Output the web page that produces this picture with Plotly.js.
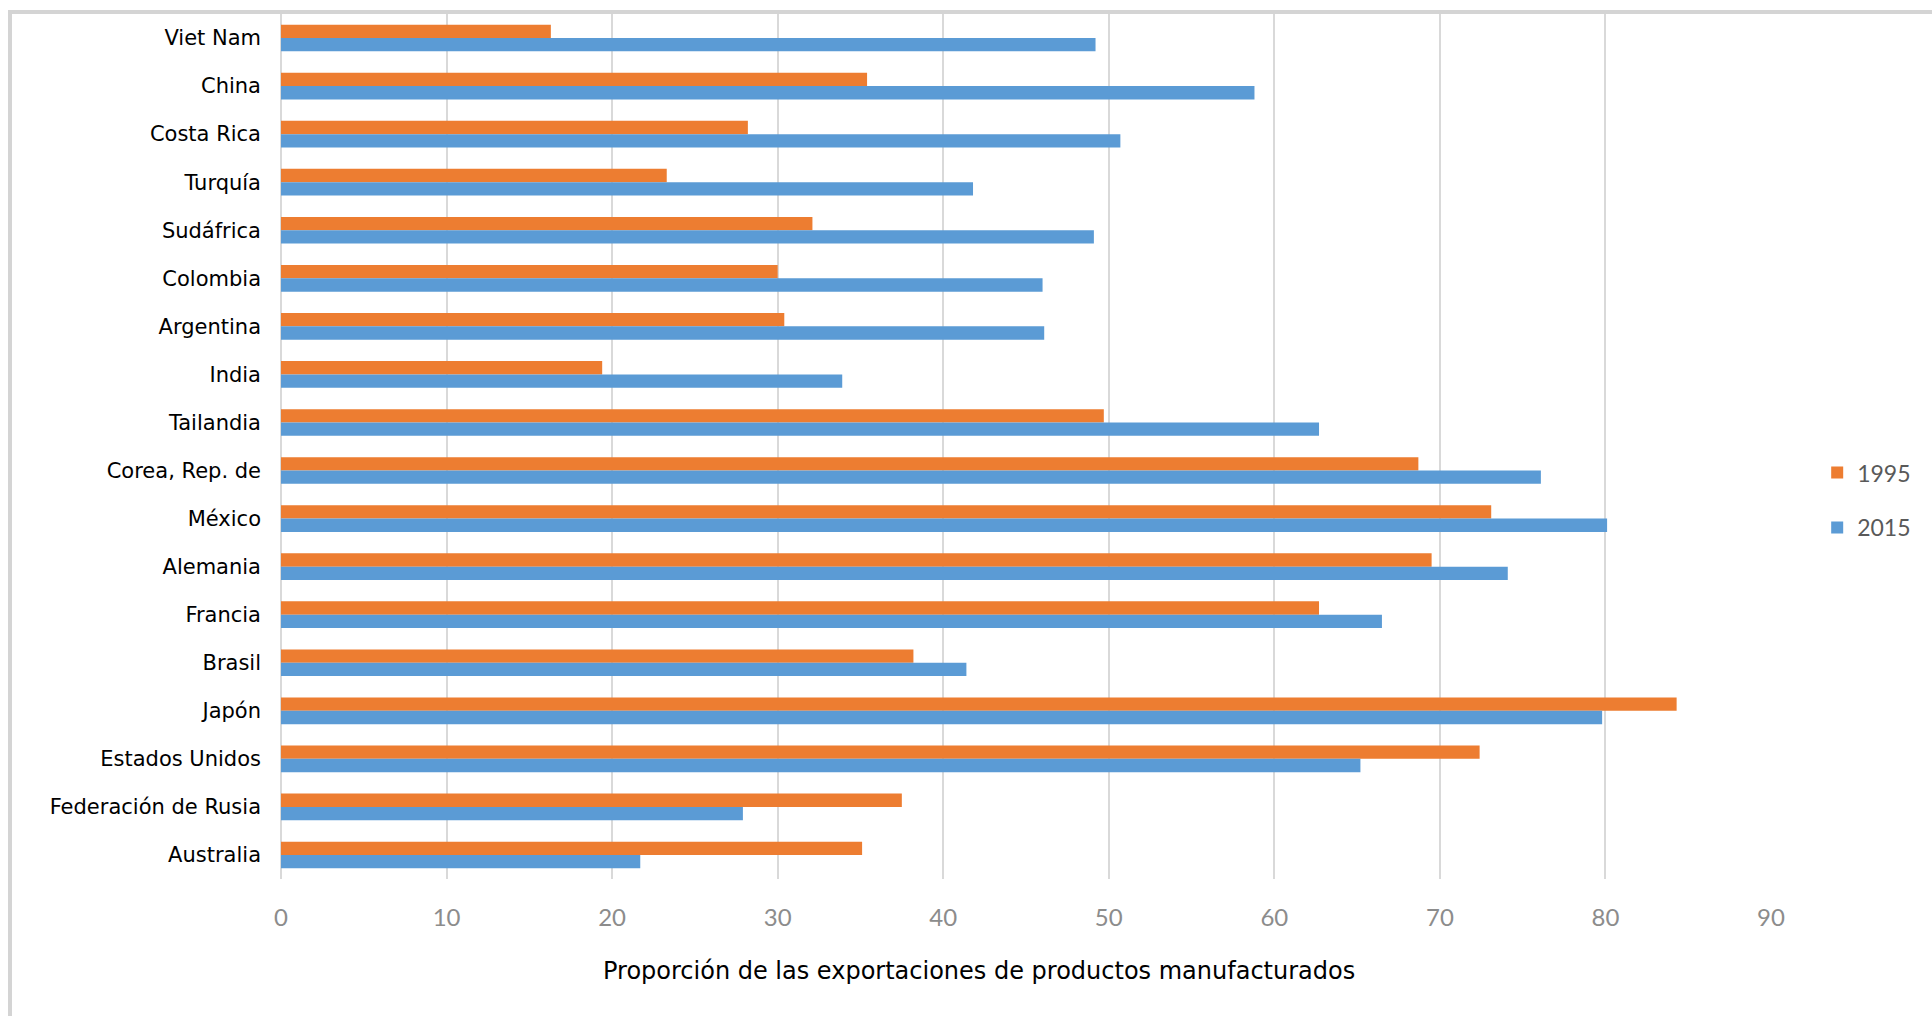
<!DOCTYPE html>
<html>
<head>
<meta charset="utf-8">
<script src="https://cdn.plot.ly/plotly-3.0.1.min.js"></script>
<style>
  html, body { margin: 0; padding: 0; background: #ffffff; overflow: hidden; }
  #frame { position: absolute; left: 8px; top: 10px; width: 2100px; height: 1200px;
           border-left: 4px solid #d4d4d4; border-top: 4px solid #d4d4d4; }
  #chart { position: absolute; left: 0; top: 0; width: 1932px; height: 1016px; }
</style>
</head>
<body>
<div id="frame"></div>
<div id="chart"></div>
<script>
// Categories, top to bottom as in the reference
const countries = [
  "Viet Nam", "China", "Costa Rica", "Turquía", "Sudáfrica", "Colombia",
  "Argentina", "India", "Tailandia", "Corea, Rep. de", "México", "Alemania",
  "Francia", "Brasil", "Japón", "Estados Unidos", "Federación de Rusia", "Australia"
];
// Share of manufactured products in exports (%)
const values1995 = [16.3, 35.4, 28.2, 23.3, 32.1, 30.0, 30.4, 19.4, 49.7, 68.7,
                    73.1, 69.5, 62.7, 38.2, 84.3, 72.4, 37.5, 35.1];
const values2015 = [49.2, 58.8, 50.7, 41.8, 49.1, 46.0, 46.1, 33.9, 62.7, 76.1,
                    80.1, 74.1, 66.5, 41.4, 79.8, 65.2, 27.9, 21.7];
const seriesNames = ["1995", "2015"];
const seriesColors = ["#ED7D31", "#5B9BD5"];
const xTicks = [0, 10, 20, 30, 40, 50, 60, 70, 80, 90];
const xTitle = "Proporción de las exportaciones de productos manufacturados";

const traces = [values1995, values2015].map((vals, i) => ({
  type: "bar",
  orientation: "h",
  name: seriesNames[i],
  legendgroup: seriesNames[i],
  y: countries,
  x: vals,
  marker: { color: seriesColors[i], line: { width: 0 } },
  hoverinfo: "x+y+name"
}));

const layout = {
  width: 1932,
  height: 1016,
  margin: { l: 281, r: 161, t: 14, b: 137, pad: 0 },
  paper_bgcolor: "rgba(0,0,0,0)",
  plot_bgcolor: "rgba(0,0,0,0)",
  barmode: "group",
  bargap: 0.445,
  bargroupgap: 0,
  showlegend: true,
  legend: {
    x: 1.031, xanchor: "left",
    y: 0.438, yanchor: "middle",
    traceorder: "grouped",
    tracegroupgap: 22,
    font: { family: "Lato, 'Open Sans', sans-serif", size: 23, color: "#595959" },
    bgcolor: "rgba(0,0,0,0)"
  },
  xaxis: {
    range: [0, 90],
    tickvals: xTicks,
    ticktext: xTicks.map(String),
    showgrid: true,
    gridcolor: "#d9d9d9",
    gridwidth: 2,
    zeroline: true,
    zerolinecolor: "#d9d9d9",
    zerolinewidth: 2,
    showline: false,
    ticks: "",
    ticklabelstandoff: 22,
    tickfont: { family: "Lato, 'Open Sans', sans-serif", size: 24, color: "#8c8c8c" },
    fixedrange: true
  },
  yaxis: {
    type: "category",
    categoryorder: "array",
    categoryarray: countries,
    autorange: "reversed",
    showgrid: false,
    zeroline: false,
    showline: false,
    ticks: "",
    ticklabelstandoff: 19,
    tickfont: { family: "'DejaVu Sans', Verdana, sans-serif", size: 21, color: "#000000" },
    fixedrange: true
  },
  annotations: [{
    text: xTitle,
    xref: "paper", yref: "paper",
    x: 0.4685, y: -0.106,
    xanchor: "center", yanchor: "middle",
    showarrow: false,
    font: { family: "'DejaVu Sans', Verdana, sans-serif", size: 24, color: "#000000" }
  }]
};

Plotly.newPlot("chart", traces, layout, { displayModeBar: false, staticPlot: true });
</script>
</body>
</html>
